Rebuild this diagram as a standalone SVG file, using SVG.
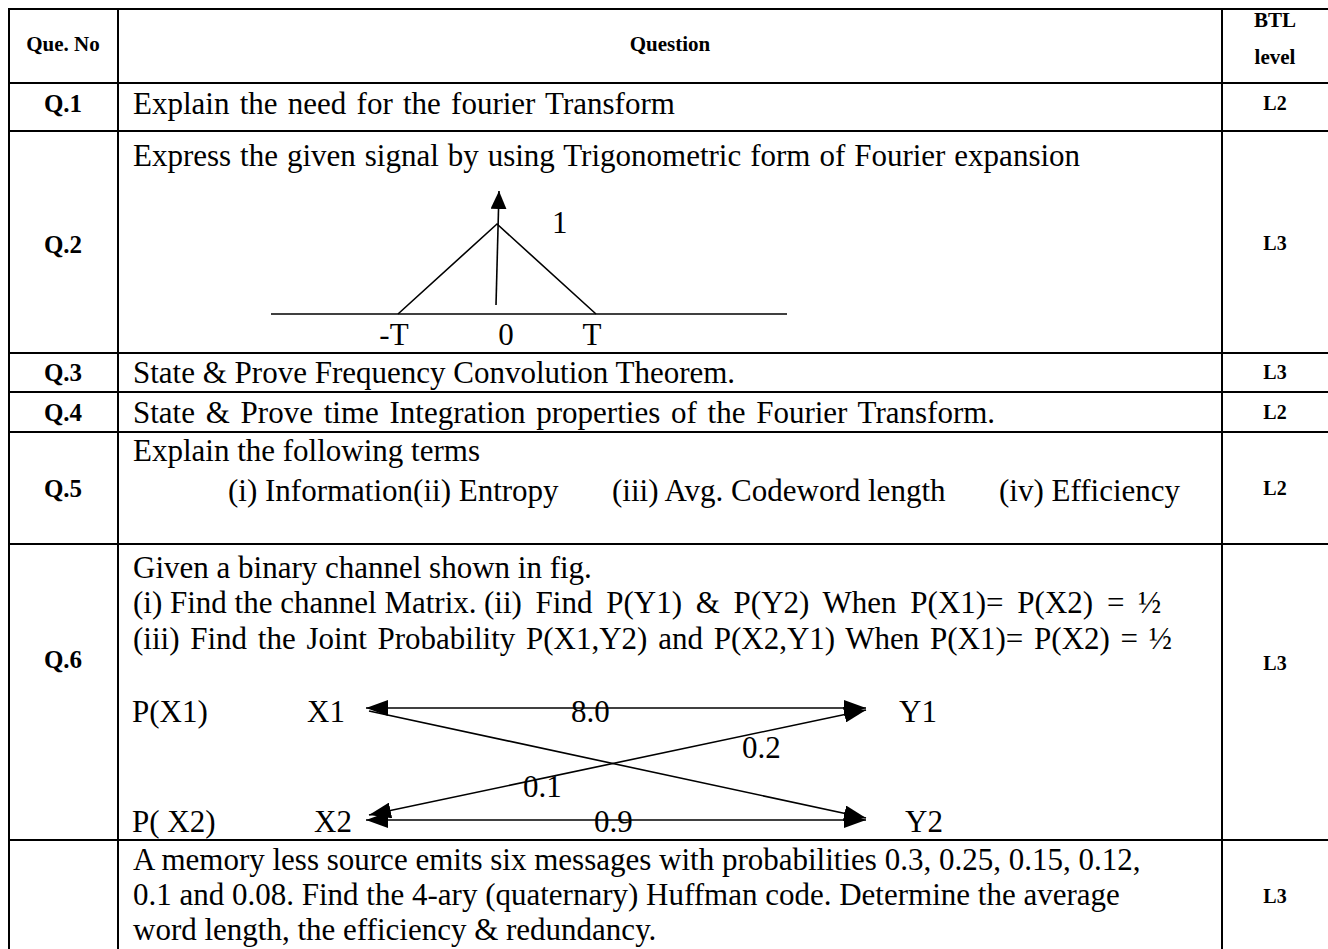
<svg xmlns="http://www.w3.org/2000/svg" width="1328" height="949" viewBox="0 0 1328 949">
<style>
.grid{stroke:#000;stroke-width:2;fill:none}
.t{font-family:"Liberation Serif","Times New Roman",serif;font-size:31px;fill:#000}
.q{font-family:"Liberation Serif","Times New Roman",serif;font-size:25px;font-weight:bold;fill:#000;text-anchor:middle}
.h{font-family:"Liberation Serif","Times New Roman",serif;font-size:21px;font-weight:bold;fill:#000;text-anchor:middle}
.l{font-family:"Liberation Serif","Times New Roman",serif;font-size:20px;font-weight:bold;fill:#000;text-anchor:middle}
.ln{stroke:#000;stroke-width:1.6;fill:none}
</style>
<defs>
<marker id="ah" viewBox="0 0 22 16" refX="22" refY="8" markerWidth="22" markerHeight="16" markerUnits="userSpaceOnUse" orient="auto-start-reverse">
<path d="M0,0 L22,8 L0,16 z" fill="#000"/>
</marker>
<marker id="av" viewBox="0 0 18 16" refX="18" refY="8" markerWidth="18" markerHeight="16" markerUnits="userSpaceOnUse" orient="auto">
<path d="M0,0 L18,8 L0,16 z" fill="#000"/>
</marker>
</defs>
<rect width="1328" height="949" fill="#fff"/>
<g id="table">
<line class="grid" x1="9" y1="9" x2="1328" y2="9"/>
<line class="grid" x1="9" y1="83" x2="1328" y2="83"/>
<line class="grid" x1="9" y1="131" x2="1328" y2="131"/>
<line class="grid" x1="9" y1="353" x2="1328" y2="353"/>
<line class="grid" x1="9" y1="392" x2="1328" y2="392"/>
<line class="grid" x1="9" y1="432" x2="1328" y2="432"/>
<line class="grid" x1="9" y1="544" x2="1328" y2="544"/>
<line class="grid" x1="9" y1="840" x2="1328" y2="840"/>
<line class="grid" x1="9" y1="8" x2="9" y2="949"/>
<line class="grid" x1="118" y1="8" x2="118" y2="949"/>
<line class="grid" x1="1222" y1="8" x2="1222" y2="949"/>
</g>
<g id="header">
<text class="h" x="63" y="51">Que. No</text>
<text class="h" x="670" y="51">Question</text>
<text class="h" x="1275" y="27">BTL</text>
<text class="h" x="1275" y="64">level</text>
</g>
<g id="q1">
<text class="q" x="63" y="112">Q.1</text>
<text class="t" x="133" y="114" word-spacing="2.5">Explain the need for the fourier Transform</text>
<text class="l" x="1275" y="110">L2</text>
</g>
<g id="q2">
<text class="q" x="63" y="253">Q.2</text>
<text class="t" x="133" y="166" word-spacing="1.2">Express the given signal by using Trigonometric form of Fourier expansion</text>
<text class="l" x="1275" y="250">L3</text>
<g id="signal">
<line class="ln" x1="271" y1="314" x2="787" y2="314" stroke-width="2"/>
<polyline class="ln" points="398,314 497,224 596,314"/>
<line class="ln" x1="496" y1="305" x2="499" y2="191" marker-end="url(#av)"/>
<text class="t" x="552" y="233">1</text>
<text class="t" x="394" y="345" text-anchor="middle">-T</text>
<text class="t" x="506" y="345" text-anchor="middle">0</text>
<text class="t" x="592" y="345" text-anchor="middle">T</text>
</g>
</g>
<g id="q3">
<text class="q" x="63" y="381">Q.3</text>
<text class="t" x="133" y="383">State &amp; Prove Frequency Convolution Theorem.</text>
<text class="l" x="1275" y="379">L3</text>
</g>
<g id="q4">
<text class="q" x="63" y="421">Q.4</text>
<text class="t" x="133" y="423" word-spacing="3">State &amp; Prove time Integration properties of the Fourier Transform.</text>
<text class="l" x="1275" y="419">L2</text>
</g>
<g id="q5">
<text class="q" x="63" y="497">Q.5</text>
<text class="t" x="133" y="461">Explain the following terms</text>
<text class="t" x="228" y="501">(i) Information(ii) Entropy</text>
<text class="t" x="612" y="501">(iii) Avg. Codeword length</text>
<text class="t" x="999" y="501">(iv) Efficiency</text>
<text class="l" x="1275" y="495">L2</text>
</g>
<g id="q6">
<text class="q" x="63" y="668">Q.6</text>
<text class="t" x="133" y="578">Given a binary channel shown in fig.</text>
<text class="t" x="133" y="613">(i) Find the channel Matrix.</text>
<text class="t" x="484" y="613" word-spacing="6">(ii) Find P(Y1) &amp;  P(Y2) When P(X1)= P(X2) = ½</text>
<text class="t" x="133" y="649" word-spacing="3">(iii) Find the Joint Probability P(X1,Y2) and P(X2,Y1) When P(X1)= P(X2) = ½</text>
<text class="l" x="1275" y="670">L3</text>
<g id="channel">
<text class="t" x="132" y="722">P(X1)</text>
<text class="t" x="307" y="722">X1</text>
<text class="t" x="899" y="722">Y1</text>
<text class="t" x="132" y="832">P( X2)</text>
<text class="t" x="314" y="832">X2</text>
<text class="t" x="905" y="832">Y2</text>
<text class="t" x="571" y="722">8.0</text>
<text class="t" x="742" y="758">0.2</text>
<text class="t" x="523" y="797">0.1</text>
<text class="t" x="594" y="832">0.9</text>
</g>
</g>
<g id="connectors">
<line class="ln" x1="366" y1="708" x2="866" y2="708" marker-start="url(#ah)" marker-end="url(#ah)"/>
<line class="ln" x1="366" y1="820" x2="866" y2="820" marker-start="url(#ah)" marker-end="url(#ah)"/>
<line class="ln" x1="369" y1="711" x2="866" y2="818" marker-end="url(#ah)"/>
<line class="ln" x1="369" y1="815" x2="866" y2="710" marker-start="url(#ah)" marker-end="url(#ah)"/>
</g>
<g id="q7">
<text class="t" x="133" y="870">A memory less source emits six messages with probabilities 0.3, 0.25, 0.15, 0.12,</text>
<text class="t" x="133" y="905">0.1 and 0.08. Find the 4-ary (quaternary) Huffman code. Determine the average</text>
<text class="t" x="133" y="940">word length, the efficiency &amp; redundancy.</text>
<text class="l" x="1275" y="903">L3</text>
</g>
</svg>
